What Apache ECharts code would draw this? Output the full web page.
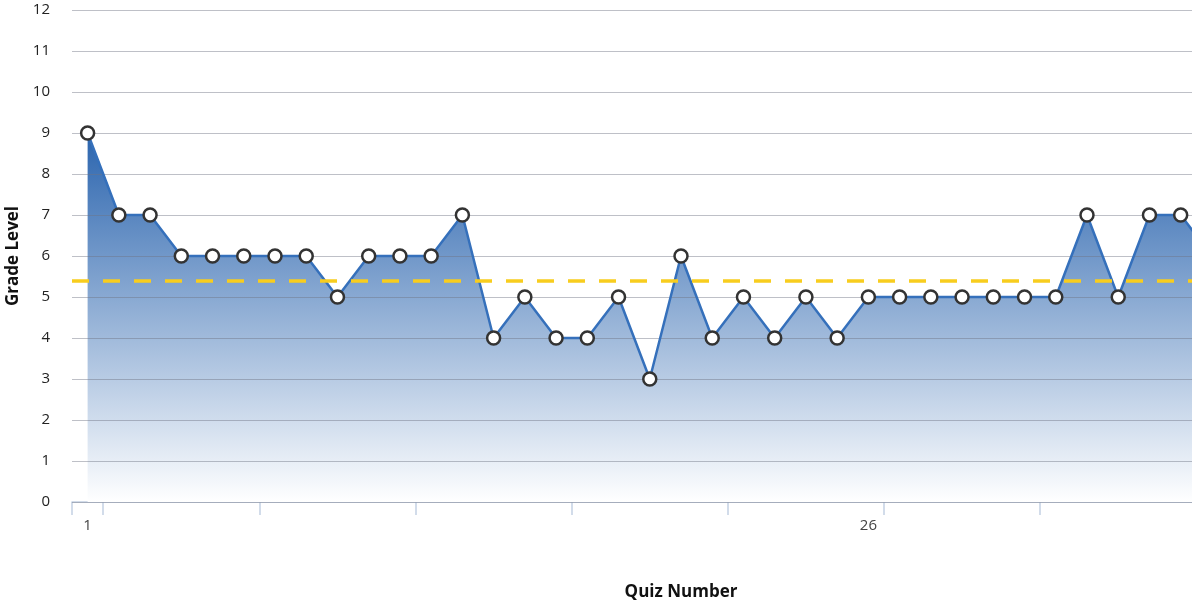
<!DOCTYPE html>
<html>
<head>
    <meta charset="utf-8">
    <title>Grade Level</title>
    <script src="https://cdn.jsdelivr.net/npm/echarts@6/dist/echarts.min.js"></script>
    <style type="text/css">
        html, body { margin: 0; padding: 0; background: #fff; }
        #main { width: 1192px; height: 603px; }
    </style>
</head>
<body>
    <div id="main"></div>
    <script type="text/javascript">
        // quiz numbers (axis runs a bit past the visible edge)
        var quizNumbers = [];
        for (var q = 1; q <= 39; q++) quizNumbers.push(String(q));

        var gradeLevels = [9, 7, 7, 6, 6, 6, 6, 6, 5, 6, 6, 6, 7, 4, 5, 4, 4, 5, 3, 6,
                           4, 5, 4, 5, 4, 5, 5, 5, 5, 5, 5, 5, 7, 5, 7, 7, 6];
        var averageLevel = 5.4;
        var yTicks = [0, 12, 1];   // min, max, step

        var chart = echarts.init(document.getElementById('main'));
        var font = '"Open Sans", "Liberation Sans", sans-serif';

        var option = {
            animation: false,
            grid: {
                left: 72, top: 10, bottom: 101, right: -98,
                containLabel: false,
                outerBoundsMode: 'none'
            },
            xAxis: {
                type: 'category',
                data: quizNumbers,
                boundaryGap: true,
                name: 'Quiz Number',
                nameLocation: 'middle',
                nameGap: 82,
                nameTextStyle: { fontFamily: font, fontWeight: 'bold', fontSize: 17, color: '#111' },
                axisLine: { show: true, lineStyle: { color: '#c3d1e4', width: 1.5 } },
                axisTick: {
                    show: true,
                    length: 13,
                    lineStyle: { color: '#c3d1e4', width: 1.5 },
                    interval: function (i) { return i === 0 || i % 5 === 1; }
                },
                axisLabel: {
                    margin: 16,
                    fontFamily: font,
                    fontSize: 15,
                    color: '#444',
                    interval: function (i) { return i % 25 === 0; }
                },
                splitLine: { show: false }
            },
            yAxis: {
                type: 'value',
                min: yTicks[0],
                max: yTicks[1],
                interval: yTicks[2],
                z: 2,
                name: 'Grade Level',
                nameLocation: 'middle',
                nameGap: 50,
                nameTextStyle: { fontFamily: font, fontWeight: 'bold', fontSize: 17, color: '#111' },
                axisLine: { show: false },
                axisTick: { show: false },
                axisLabel: { margin: 22, fontFamily: font, fontSize: 15, color: '#222' },
                splitLine: { lineStyle: { color: 'rgba(110,115,130,0.45)', width: 1.2 } }
            },
            series: [
                {
                    // filled area underneath, drawn below the grid lines
                    type: 'line',
                    data: gradeLevels,
                    z: 1,
                    symbol: 'none',
                    lineStyle: { width: 0 },
                    areaStyle: {
                        opacity: 1,
                        color: new echarts.graphic.LinearGradient(0, 0, 0, 1, [
                            { offset: 0, color: '#2a64ae' },
                            { offset: 1, color: '#ffffff' }
                        ])
                    },
                    silent: true
                },
                {
                    name: 'Grade Level',
                    type: 'line',
                    data: gradeLevels,
                    z: 3,
                    symbol: 'circle',
                    symbolSize: 13,
                    showAllSymbol: true,
                    lineStyle: { color: '#3570bb', width: 2.5 },
                    itemStyle: { color: '#fff', borderColor: '#333', borderWidth: 2.5 },
                    markLine: {
                        silent: true,
                        symbol: 'none',
                        label: { show: false },
                        lineStyle: { color: '#f8cd1e', type: [17, 14], width: 3.5 },
                        data: [{ yAxis: averageLevel }]
                    }
                }
            ]
        };
        chart.setOption(option);
    </script>
</body>
</html>
